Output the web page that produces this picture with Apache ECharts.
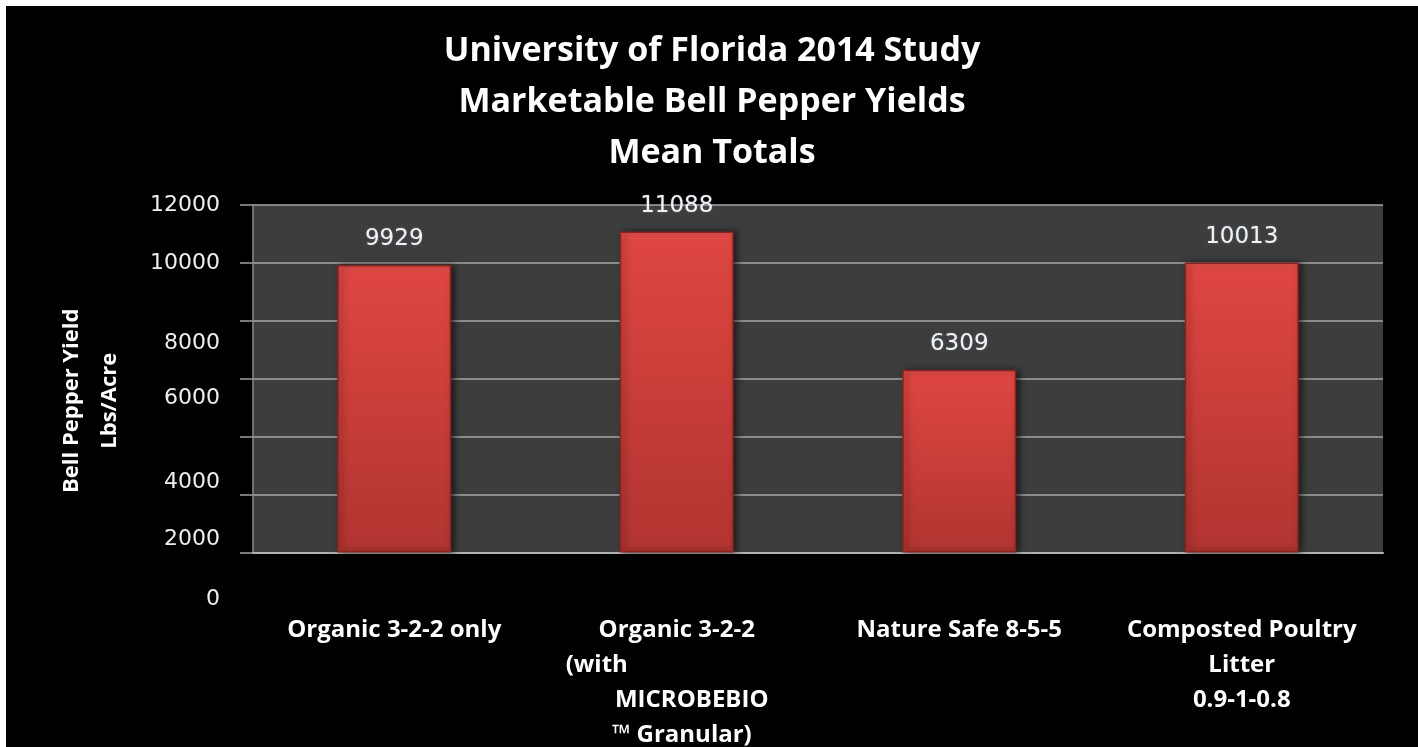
<!DOCTYPE html>
<html>
<head>
<meta charset="utf-8">
<script src="https://cdn.jsdelivr.net/npm/echarts@6/dist/echarts.min.js"></script>
<style>
  html, body { margin: 0; padding: 0; background: #ffffff; width: 1418px; height: 747px; overflow: hidden; }
  #chart { position: absolute; left: 6px; top: 6px; width: 1412px; height: 741px; background: #000000; }
</style>
</head>
<body>
<div id="chart"></div>
<script>
const titleLines = ["University of Florida 2014 Study", "Marketable Bell Pepper Yields", "Mean Totals"];
const yAxisTitle = ["Bell Pepper Yield", "Lbs/Acre"];
const categories = [
  "Organic 3-2-2 only",
  "Organic 3-2-2\n(with\nMICROBEBIO\n™ Granular)",
  "Nature Safe 8-5-5",
  "Composted Poultry\nLitter\n0.9-1-0.8"
];
const yields = [9929, 11088, 6309, 10013];
const yTicks = [0, 2000, 4000, 6000, 8000, 10000, 12000];

// label drift of the original (pixels, downward) per tick value
const yLabelDrift = { 0: 47, 2000: 45, 4000: 46, 6000: 20, 8000: 22, 10000: 0, 12000: 0 };
// horizontal drift of the wrapped lines of the second category
const catLineShift = { 1: [0, -80, 15, 5] };

const chart = echarts.init(document.getElementById('chart'), null, { renderer: 'canvas' });

const yRich = {};
Object.keys(yLabelDrift).forEach(function (k) {
  yRich['d' + k] = { padding: [yLabelDrift[k] * 2, 0, 0, 0], fontSize: 22, color: '#eeeeee', fontFamily: 'DejaVu Sans' };
});

const X_FONT = 24;
const xRich = { c: { fontSize: X_FONT, lineHeight: 35, color: '#ffffff', fontWeight: 'bold', fontFamily: 'Open Sans' } };
const shiftVals = [-80, 15, 5];
shiftVals.forEach(function (s) {
  const name = 's' + (s < 0 ? 'm' + (-s) : 'p' + s);
  xRich[name] = {
    fontSize: X_FONT, lineHeight: 35, color: '#ffffff', fontWeight: 'bold', fontFamily: 'Open Sans',
    padding: s < 0 ? [0, -2 * s, 0, 0] : [0, 0, 0, 2 * s]
  };
});

const option = {
  backgroundColor: '#000000',
  animation: false,
  title: {
    text: titleLines.join('\n'),
    left: 'center',
    top: 15,
    textStyle: { color: '#ffffff', fontSize: 34, fontWeight: 'bold', fontFamily: 'Open Sans', lineHeight: 51 }
  },
  grid: {
    left: 247, top: 199, width: 1130, height: 350,
    show: true, backgroundColor: '#3d3d3d', borderWidth: 0
  },
  xAxis: {
    type: 'category',
    data: categories,
    axisLine: { show: true, lineStyle: { color: '#b0b0b0', width: 2 } },
    axisTick: { show: false },
    axisLabel: {
      interval: 0,
      margin: 60,
      formatter: function (value, idx) {
        const lines = value.split('\n');
        const shifts = catLineShift[idx] || [];
        return lines.map(function (ln, i) {
          const s = shifts[i] || 0;
          const name = s === 0 ? 'c' : ('s' + (s < 0 ? 'm' + (-s) : 'p' + s));
          return '{' + name + '|' + ln + '}';
        }).join('\n');
      },
      rich: xRich
    }
  },
  yAxis: {
    type: 'value',
    min: yTicks[0],
    max: yTicks[yTicks.length - 1],
    interval: yTicks[1] - yTicks[0],
    name: yAxisTitle.join('\n'),
    nameLocation: 'middle',
    nameRotate: 90,
    nameGap: 124,
    nameTextStyle: { color: '#ffffff', fontSize: 22, fontWeight: 'bold', fontFamily: 'Open Sans', lineHeight: 38, padding: [0, 44, 0, 0] },
    axisLine: { show: true, lineStyle: { color: '#8a8a8a', width: 1.5 } },
    axisTick: { show: true, length: 13, lineStyle: { color: '#a0a0a0', width: 1.5 } },
    splitLine: { show: true, lineStyle: { color: '#a6a6a6', width: 1.5 } },
    axisLabel: {
      margin: 33,
      formatter: function (v) { return '{d' + v + '|' + v + '}'; },
      rich: yRich
    }
  },
  series: [{
    type: 'bar',
    data: yields,
    barWidth: 114,
    itemStyle: {
      color: new echarts.graphic.LinearGradient(0, 0, 0, 1, [
        { offset: 0, color: '#e8534d' },
        { offset: 0.03, color: '#de4642' },
        { offset: 1, color: '#b13430' }
      ]),
      borderColor: '#8a2220',
      borderWidth: 1.5,
      shadowColor: 'rgba(0,0,0,0.55)',
      shadowBlur: 6,
      shadowOffsetX: 3
    },
    label: {
      show: true,
      position: 'top',
      distance: 14,
      color: '#f2f2f2',
      fontSize: 23,
      fontFamily: 'DejaVu Sans',
      textShadowColor: 'rgba(120,160,200,0.5)',
      textShadowBlur: 2
    }
  }]
};
chart.setOption(option);
</script>
</body>
</html>
